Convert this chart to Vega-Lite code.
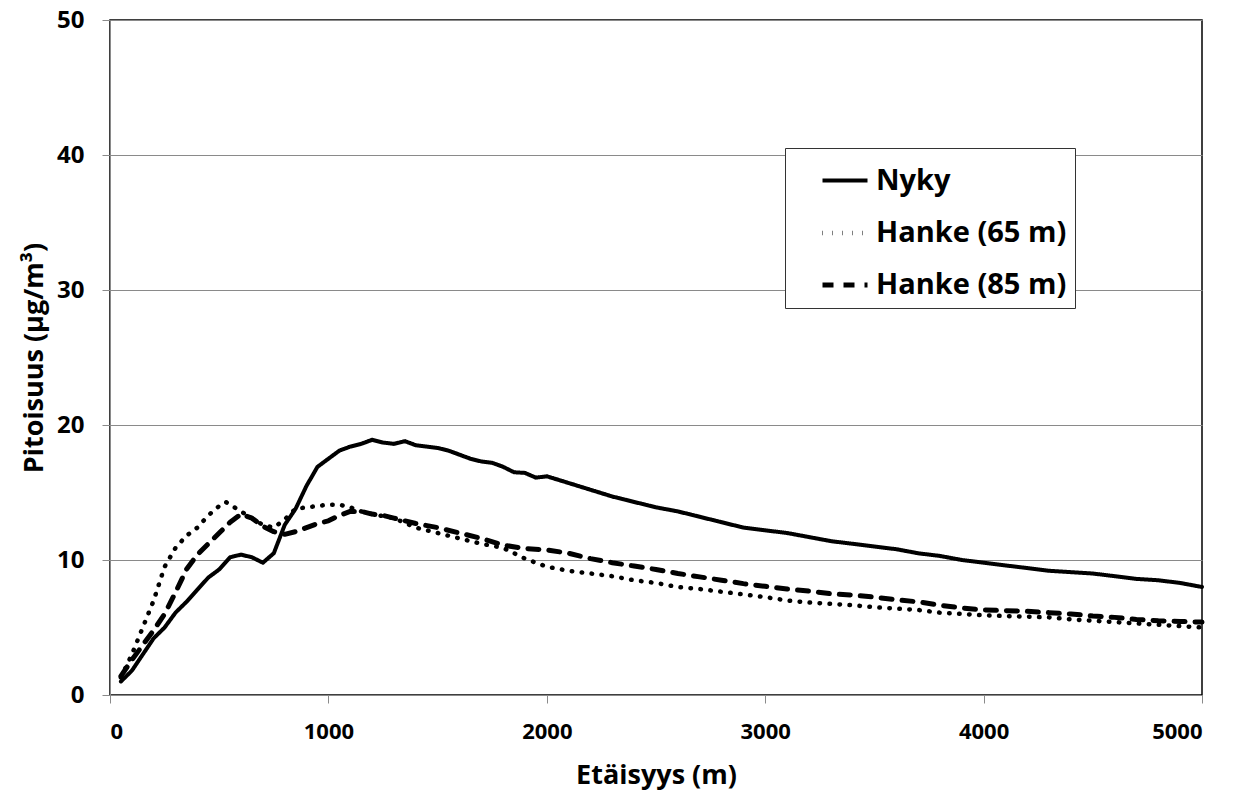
{
  "$schema": "https://vega.github.io/schema/vega-lite/v6.json",
  "width": 1092,
  "height": 675,
  "autosize": {"type": "none"},
  "padding": {"left": 110, "top": 20, "right": 41, "bottom": 101},
  "background": "white",
  "config": {
    "view": {"stroke": "#000", "strokeWidth": 1.5},
    "axis": {"domainColor": "#8a8a8a", "tickColor": "#8a8a8a", "gridColor": "#8a8a8a", "gridWidth": 1, "tickSize": 8, "labelColor": "#000", "titleColor": "#000"}
  },
  "data": {"values": [
    {"s":"Nyky","m":50,"v":1.0},{"s":"Nyky","m":100,"v":1.8},{"s":"Nyky","m":150,"v":3.0},{"s":"Nyky","m":200,"v":4.2},{"s":"Nyky","m":250,"v":5.0},{"s":"Nyky","m":300,"v":6.1},{"s":"Nyky","m":350,"v":6.9},{"s":"Nyky","m":400,"v":7.8},{"s":"Nyky","m":450,"v":8.7},{"s":"Nyky","m":500,"v":9.3},{"s":"Nyky","m":550,"v":10.2},{"s":"Nyky","m":600,"v":10.4},{"s":"Nyky","m":650,"v":10.2},{"s":"Nyky","m":700,"v":9.8},{"s":"Nyky","m":750,"v":10.5},{"s":"Nyky","m":800,"v":12.6},{"s":"Nyky","m":850,"v":13.8},{"s":"Nyky","m":900,"v":15.5},{"s":"Nyky","m":950,"v":16.9},{"s":"Nyky","m":1000,"v":17.5},{"s":"Nyky","m":1050,"v":18.1},{"s":"Nyky","m":1100,"v":18.4},{"s":"Nyky","m":1150,"v":18.6},{"s":"Nyky","m":1200,"v":18.9},{"s":"Nyky","m":1250,"v":18.7},{"s":"Nyky","m":1300,"v":18.6},{"s":"Nyky","m":1350,"v":18.8},{"s":"Nyky","m":1400,"v":18.5},{"s":"Nyky","m":1450,"v":18.4},{"s":"Nyky","m":1500,"v":18.3},{"s":"Nyky","m":1550,"v":18.1},{"s":"Nyky","m":1600,"v":17.8},{"s":"Nyky","m":1650,"v":17.5},{"s":"Nyky","m":1700,"v":17.3},{"s":"Nyky","m":1750,"v":17.2},{"s":"Nyky","m":1800,"v":16.9},{"s":"Nyky","m":1850,"v":16.5},{"s":"Nyky","m":1900,"v":16.45},{"s":"Nyky","m":1950,"v":16.1},{"s":"Nyky","m":2000,"v":16.2},{"s":"Nyky","m":2100,"v":15.7},{"s":"Nyky","m":2200,"v":15.2},{"s":"Nyky","m":2300,"v":14.7},{"s":"Nyky","m":2400,"v":14.3},{"s":"Nyky","m":2500,"v":13.9},{"s":"Nyky","m":2600,"v":13.6},{"s":"Nyky","m":2700,"v":13.2},{"s":"Nyky","m":2800,"v":12.8},{"s":"Nyky","m":2900,"v":12.4},{"s":"Nyky","m":3000,"v":12.2},{"s":"Nyky","m":3100,"v":12.0},{"s":"Nyky","m":3200,"v":11.7},{"s":"Nyky","m":3300,"v":11.4},{"s":"Nyky","m":3400,"v":11.2},{"s":"Nyky","m":3500,"v":11.0},{"s":"Nyky","m":3600,"v":10.8},{"s":"Nyky","m":3700,"v":10.5},{"s":"Nyky","m":3800,"v":10.3},{"s":"Nyky","m":3900,"v":10.0},{"s":"Nyky","m":4000,"v":9.8},{"s":"Nyky","m":4100,"v":9.6},{"s":"Nyky","m":4200,"v":9.4},{"s":"Nyky","m":4300,"v":9.2},{"s":"Nyky","m":4400,"v":9.1},{"s":"Nyky","m":4500,"v":9.0},{"s":"Nyky","m":4600,"v":8.8},{"s":"Nyky","m":4700,"v":8.6},{"s":"Nyky","m":4800,"v":8.5},{"s":"Nyky","m":4900,"v":8.3},{"s":"Nyky","m":5000,"v":8.0},
    {"s":"Hanke (65 m)","m":50,"v":1.3},{"s":"Hanke (65 m)","m":100,"v":3.0},{"s":"Hanke (65 m)","m":150,"v":5.0},{"s":"Hanke (65 m)","m":200,"v":7.0},{"s":"Hanke (65 m)","m":250,"v":9.5},{"s":"Hanke (65 m)","m":300,"v":10.9},{"s":"Hanke (65 m)","m":350,"v":11.8},{"s":"Hanke (65 m)","m":400,"v":12.4},{"s":"Hanke (65 m)","m":450,"v":13.3},{"s":"Hanke (65 m)","m":500,"v":14.0},{"s":"Hanke (65 m)","m":530,"v":14.3},{"s":"Hanke (65 m)","m":550,"v":14.1},{"s":"Hanke (65 m)","m":600,"v":13.6},{"s":"Hanke (65 m)","m":650,"v":13.1},{"s":"Hanke (65 m)","m":700,"v":12.6},{"s":"Hanke (65 m)","m":750,"v":12.4},{"s":"Hanke (65 m)","m":800,"v":13.0},{"s":"Hanke (65 m)","m":850,"v":13.8},{"s":"Hanke (65 m)","m":900,"v":13.9},{"s":"Hanke (65 m)","m":950,"v":14.0},{"s":"Hanke (65 m)","m":1000,"v":14.1},{"s":"Hanke (65 m)","m":1050,"v":14.1},{"s":"Hanke (65 m)","m":1100,"v":13.9},{"s":"Hanke (65 m)","m":1150,"v":13.6},{"s":"Hanke (65 m)","m":1200,"v":13.4},{"s":"Hanke (65 m)","m":1300,"v":13.1},{"s":"Hanke (65 m)","m":1400,"v":12.4},{"s":"Hanke (65 m)","m":1500,"v":12.0},{"s":"Hanke (65 m)","m":1600,"v":11.6},{"s":"Hanke (65 m)","m":1700,"v":11.2},{"s":"Hanke (65 m)","m":1800,"v":10.9},{"s":"Hanke (65 m)","m":1900,"v":10.1},{"s":"Hanke (65 m)","m":2000,"v":9.5},{"s":"Hanke (65 m)","m":2100,"v":9.2},{"s":"Hanke (65 m)","m":2200,"v":9.0},{"s":"Hanke (65 m)","m":2300,"v":8.8},{"s":"Hanke (65 m)","m":2400,"v":8.5},{"s":"Hanke (65 m)","m":2500,"v":8.3},{"s":"Hanke (65 m)","m":2600,"v":8.0},{"s":"Hanke (65 m)","m":2700,"v":7.85},{"s":"Hanke (65 m)","m":2800,"v":7.65},{"s":"Hanke (65 m)","m":2900,"v":7.45},{"s":"Hanke (65 m)","m":3000,"v":7.25},{"s":"Hanke (65 m)","m":3100,"v":7.0},{"s":"Hanke (65 m)","m":3200,"v":6.85},{"s":"Hanke (65 m)","m":3300,"v":6.75},{"s":"Hanke (65 m)","m":3400,"v":6.65},{"s":"Hanke (65 m)","m":3500,"v":6.5},{"s":"Hanke (65 m)","m":3600,"v":6.4},{"s":"Hanke (65 m)","m":3700,"v":6.3},{"s":"Hanke (65 m)","m":3800,"v":6.1},{"s":"Hanke (65 m)","m":3900,"v":6.0},{"s":"Hanke (65 m)","m":4000,"v":5.9},{"s":"Hanke (65 m)","m":4100,"v":5.85},{"s":"Hanke (65 m)","m":4200,"v":5.8},{"s":"Hanke (65 m)","m":4300,"v":5.75},{"s":"Hanke (65 m)","m":4400,"v":5.6},{"s":"Hanke (65 m)","m":4500,"v":5.5},{"s":"Hanke (65 m)","m":4600,"v":5.4},{"s":"Hanke (65 m)","m":4700,"v":5.3},{"s":"Hanke (65 m)","m":4800,"v":5.2},{"s":"Hanke (65 m)","m":4900,"v":5.1},{"s":"Hanke (65 m)","m":5000,"v":5.0},
    {"s":"Hanke (85 m)","m":50,"v":1.4},{"s":"Hanke (85 m)","m":100,"v":2.6},{"s":"Hanke (85 m)","m":150,"v":3.7},{"s":"Hanke (85 m)","m":200,"v":4.8},{"s":"Hanke (85 m)","m":250,"v":6.0},{"s":"Hanke (85 m)","m":300,"v":7.6},{"s":"Hanke (85 m)","m":350,"v":9.3},{"s":"Hanke (85 m)","m":400,"v":10.4},{"s":"Hanke (85 m)","m":450,"v":11.2},{"s":"Hanke (85 m)","m":500,"v":12.0},{"s":"Hanke (85 m)","m":550,"v":12.8},{"s":"Hanke (85 m)","m":600,"v":13.4},{"s":"Hanke (85 m)","m":650,"v":13.1},{"s":"Hanke (85 m)","m":700,"v":12.5},{"s":"Hanke (85 m)","m":750,"v":12.1},{"s":"Hanke (85 m)","m":800,"v":11.9},{"s":"Hanke (85 m)","m":850,"v":12.1},{"s":"Hanke (85 m)","m":900,"v":12.4},{"s":"Hanke (85 m)","m":950,"v":12.7},{"s":"Hanke (85 m)","m":1000,"v":12.9},{"s":"Hanke (85 m)","m":1050,"v":13.3},{"s":"Hanke (85 m)","m":1100,"v":13.6},{"s":"Hanke (85 m)","m":1150,"v":13.6},{"s":"Hanke (85 m)","m":1200,"v":13.4},{"s":"Hanke (85 m)","m":1250,"v":13.3},{"s":"Hanke (85 m)","m":1300,"v":13.1},{"s":"Hanke (85 m)","m":1350,"v":12.9},{"s":"Hanke (85 m)","m":1400,"v":12.7},{"s":"Hanke (85 m)","m":1500,"v":12.4},{"s":"Hanke (85 m)","m":1600,"v":12.0},{"s":"Hanke (85 m)","m":1700,"v":11.6},{"s":"Hanke (85 m)","m":1800,"v":11.1},{"s":"Hanke (85 m)","m":1900,"v":10.85},{"s":"Hanke (85 m)","m":2000,"v":10.75},{"s":"Hanke (85 m)","m":2100,"v":10.5},{"s":"Hanke (85 m)","m":2200,"v":10.1},{"s":"Hanke (85 m)","m":2300,"v":9.8},{"s":"Hanke (85 m)","m":2400,"v":9.55},{"s":"Hanke (85 m)","m":2500,"v":9.3},{"s":"Hanke (85 m)","m":2600,"v":9.0},{"s":"Hanke (85 m)","m":2700,"v":8.75},{"s":"Hanke (85 m)","m":2800,"v":8.5},{"s":"Hanke (85 m)","m":2900,"v":8.25},{"s":"Hanke (85 m)","m":3000,"v":8.05},{"s":"Hanke (85 m)","m":3100,"v":7.85},{"s":"Hanke (85 m)","m":3200,"v":7.7},{"s":"Hanke (85 m)","m":3300,"v":7.5},{"s":"Hanke (85 m)","m":3400,"v":7.4},{"s":"Hanke (85 m)","m":3500,"v":7.25},{"s":"Hanke (85 m)","m":3600,"v":7.05},{"s":"Hanke (85 m)","m":3700,"v":6.9},{"s":"Hanke (85 m)","m":3800,"v":6.65},{"s":"Hanke (85 m)","m":3900,"v":6.45},{"s":"Hanke (85 m)","m":4000,"v":6.3},{"s":"Hanke (85 m)","m":4100,"v":6.25},{"s":"Hanke (85 m)","m":4200,"v":6.2},{"s":"Hanke (85 m)","m":4300,"v":6.1},{"s":"Hanke (85 m)","m":4400,"v":6.0},{"s":"Hanke (85 m)","m":4500,"v":5.85},{"s":"Hanke (85 m)","m":4600,"v":5.75},{"s":"Hanke (85 m)","m":4700,"v":5.6},{"s":"Hanke (85 m)","m":4800,"v":5.5},{"s":"Hanke (85 m)","m":4900,"v":5.45},{"s":"Hanke (85 m)","m":5000,"v":5.4}
  ]},
  "mark": {"type": "line", "color": "#000", "strokeCap": "round", "strokeJoin": "round"},
  "encoding": {
    "x": {"field": "m", "type": "quantitative", "scale": {"domain": [0, 5000], "nice": false},
      "axis": {"values": [0,1000,2000,3000,4000,5000], "format": "d", "grid": false, "title": "Etäisyys (m)",
        "labelFont": "Open Sans", "labelFontSize": 22, "labelFontWeight": "bold", "labelPadding": 18,
        "titleFont": "Open Sans", "titleFontSize": 27, "titleFontWeight": "bold", "titlePadding": 20}},
    "y": {"field": "v", "type": "quantitative", "scale": {"domain": [0, 50], "nice": false},
      "axis": {"values": [0,10,20,30,40,50], "grid": true, "title": "Pitoisuus (µg/m³)",
        "labelFont": "Open Sans", "labelFontSize": 24, "labelFontWeight": "bold", "labelPadding": 18,
        "titleFont": "Open Sans", "titleFontSize": 27, "titleFontWeight": "bold", "titlePadding": 8}},
    "strokeWidth": {"field": "s", "type": "nominal", "legend": null,
      "scale": {"domain": ["Nyky", "Hanke (65 m)", "Hanke (85 m)"], "range": [4, 5, 4.5]}},
    "strokeDash": {"field": "s", "type": "nominal",
      "scale": {"domain": ["Nyky", "Hanke (65 m)", "Hanke (85 m)"], "range": [[1, 0], [0.5, 9.5], [11, 10]]},
      "legend": {"title": null, "orient": "none", "legendX": 675, "legendY": 128,
        "fillColor": "white", "strokeColor": "#333", "padding": 8, "rowPadding": 12, "symbolOffset": 27,
        "symbolType": "stroke", "symbolSize": 2025, "symbolStrokeWidth": 4, "symbolStrokeColor": "#000",
        "labelFont": "Open Sans", "labelFontSize": 29, "labelFontWeight": "bold", "labelColor": "#000", "labelOffset": 6, "labelLimit": 400}}
  }
}
